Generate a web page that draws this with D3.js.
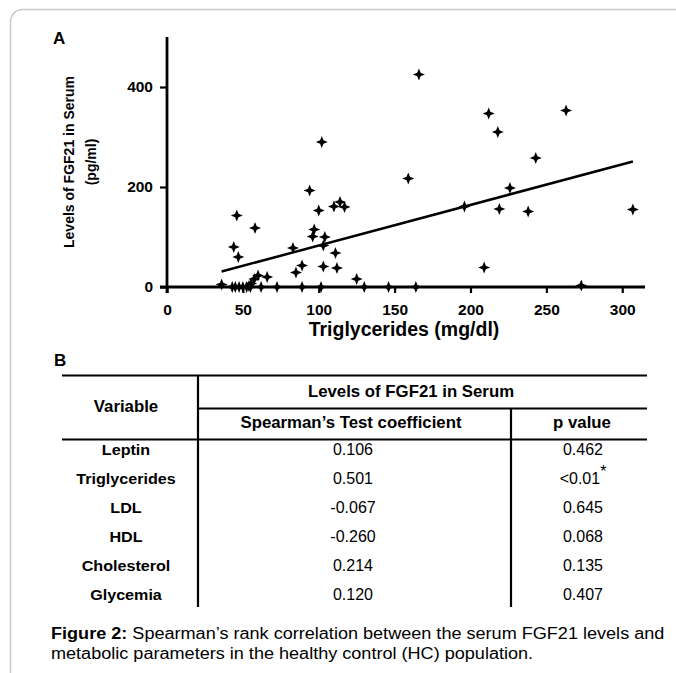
<!DOCTYPE html>
<html>
<head>
<meta charset="utf-8">
<script src="https://cdn.jsdelivr.net/npm/d3@7"></script>
<style>
  body { margin: 0; background: #fff; }
  text { font-family: "Liberation Sans", Arial, sans-serif; fill: #000; }
</style>
</head>
<body>
<div id="chart"></div>
<script>
// scatter values (triglycerides mg/dl, FGF21 pg/ml)
const tgValues = [36, 44, 46, 47, 58, 54, 55.5, 57.5, 60, 66,
  83, 85, 89, 94, 96, 97, 100, 102, 103, 104, 103, 110, 111, 112, 114, 117, 125,
  166, 159, 196, 209, 212, 218, 219, 226, 238, 243, 263, 273, 307,
  43, 45, 47.5, 50, 52.5, 55, 62, 72.5, 89, 101.5, 130, 146, 164];
const fgfValues = [5, 80, 143, 60, 118, 2, 7, 16, 23, 20,
  78, 29, 43, 193, 101, 115, 153, 290, 83, 100, 41, 161, 68, 38, 170, 160, 16,
  425, 217, 161, 39, 347, 310, 156, 198, 151, 258, 353, 3, 155,
  0, 0, 0, 0, 0, 0, 0, 0, 0, 0, 0, 0, 0];
// regression line end points
const fitX = [36, 307];
const fitY = [31, 251];

const xTicks = [0, 50, 100, 150, 200, 250, 300];
const yTicks = [0, 200, 400];

// table B
const variables = ['Leptin', 'Triglycerides', 'LDL', 'HDL', 'Cholesterol', 'Glycemia'];
const coefficients = ['0.106', '0.501', '-0.067', '-0.260', '0.214', '0.120'];
const pValues = ['0.462', '<0.01', '0.645', '0.068', '0.135', '0.407'];

const W = 676, H = 673;
const svg = d3.select('#chart').append('svg')
    .attr('width', W)
    .attr('height', H);

svg.append('rect').attr('width', W).attr('height', H).attr('fill', '#fff');

// frame
svg.append('path')
    .attr('d', 'M10.5,' + H + 'V21A12,12 0 0 1 22.5,9.5H' + W)
    .attr('fill', 'none')
    .attr('stroke', '#c9c9c9')
    .attr('stroke-width', 1.5);

// ---------- panel A ----------
const x = d3.scaleLinear().domain([0, 315]).range([167, 645]);
const y = d3.scaleLinear().domain([0, 500]).range([287, 37]);

svg.append('text')
    .attr('x', 53).attr('y', 44)
    .attr('font-size', 17).attr('font-weight', 'bold')
    .text('A');

const xAxis = svg.append('g')
    .attr('transform', `translate(0,${y(0)})`)
    .call(d3.axisBottom(x).tickValues(xTicks).tickSize(6).tickSizeOuter(0).tickPadding(11));
xAxis.select('.domain')
    .attr('d', `M${x(0) - 7},0H${x(315)}`)
    .attr('stroke', '#000').attr('stroke-width', 2.8);

const yAxis = svg.append('g')
    .attr('transform', `translate(${x(0)},0)`)
    .call(d3.axisLeft(y).tickValues(yTicks).tickSize(7).tickSizeOuter(0).tickPadding(7));
yAxis.select('.domain')
    .attr('d', `M0,${y(0) + 6}V${y(500)}`)
    .attr('stroke', '#000').attr('stroke-width', 2.8);

[xAxis, yAxis].forEach(g => {
    g.selectAll('.tick line').attr('stroke', '#000').attr('stroke-width', 2.2);
    g.selectAll('.tick text')
        .attr('font-family', '"Liberation Sans", Arial, sans-serif')
        .attr('font-size', 15.5).attr('font-weight', 'bold').attr('fill', '#000');
});

svg.append('text')
    .attr('x', 404).attr('y', 336)
    .attr('text-anchor', 'middle')
    .attr('font-size', 19.5).attr('font-weight', 'bold')
    .text('Triglycerides (mg/dl)');

const yTitle = svg.append('text')
    .attr('transform', 'translate(74,162) rotate(-90)')
    .attr('text-anchor', 'middle')
    .attr('font-size', 14).attr('font-weight', 'bold');
yTitle.append('tspan').attr('x', 0).attr('dy', 0).text('Levels of FGF21 in Serum');
yTitle.append('tspan').attr('x', 0).attr('dy', 22).text('(pg/ml)');

// regression line
svg.append('path')
    .datum(fitX.map((d, i) => [d, fitY[i]]))
    .attr('d', d3.line().x(d => x(d[0])).y(d => y(d[1])))
    .attr('fill', 'none')
    .attr('stroke', '#000')
    .attr('stroke-width', 2.5);

// four point star marker
function star(cx, cy) {
    const R = 6, r = 1.7;
    return `M${cx},${cy - R}L${cx + r},${cy - r}L${cx + R},${cy}L${cx + r},${cy + r}` +
        `L${cx},${cy + R}L${cx - r},${cy + r}L${cx - R},${cy}L${cx - r},${cy - r}Z`;
}

svg.append('g').selectAll('path')
    .data(tgValues.map((d, i) => [d, fgfValues[i]]))
    .join('path')
    .attr('d', d => star(x(d[0]), y(d[1])))
    .attr('fill', '#000');

// ---------- panel B ----------
svg.append('text')
    .attr('x', 54).attr('y', 366)
    .attr('font-size', 17).attr('font-weight', 'bold')
    .text('B');

const tLeft = 62, tRight = 647, col1 = 198, col2 = 511;
const tTop = 375.5, tMid = 408.5, tHead = 439.5, tBottom = 607;

const rows = d3.scalePoint().domain(variables).range([455, 600]);

const tableLines = [
    [tLeft, tTop, tRight, tTop],
    [col1, tMid, tRight, tMid],
    [tLeft, tHead, tRight, tHead],
    [col1, tTop, col1, tBottom],
    [col2, tMid, col2, tBottom]
];
svg.append('g').selectAll('line')
    .data(tableLines)
    .join('line')
    .attr('x1', d => d[0]).attr('y1', d => d[1])
    .attr('x2', d => d[2]).attr('y2', d => d[3])
    .attr('stroke', '#000')
    .attr('stroke-width', 2.2);

const header = [
    {t: 'Variable', x: 126, y: 412},
    {t: 'Levels of FGF21 in Serum', x: 411, y: 397},
    {t: 'Spearman\u2019s Test coefficient', x: 351, y: 428},
    {t: 'p value', x: 582, y: 428}
];
svg.append('g').selectAll('text')
    .data(header)
    .join('text')
    .attr('transform', d => `translate(${d.x},${d.y}) scale(1.05,1)`)
    .attr('text-anchor', 'middle')
    .attr('font-size', 16).attr('font-weight', 'bold')
    .text(d => d.t);

svg.append('g').selectAll('text')
    .data(variables)
    .join('text')
    .attr('transform', d => `translate(126,${rows(d)}) scale(1.04,1)`)
    .attr('text-anchor', 'middle')
    .attr('font-size', 15.5).attr('font-weight', 'bold')
    .text(d => d);

svg.append('g').selectAll('text')
    .data(coefficients)
    .join('text')
    .attr('x', 353).attr('y', (d, i) => rows(variables[i]))
    .attr('text-anchor', 'middle')
    .attr('font-size', 16)
    .text(d => d);

const pText = svg.append('g').selectAll('text')
    .data(pValues)
    .join('text')
    .attr('x', 583).attr('y', (d, i) => rows(variables[i]))
    .attr('text-anchor', 'middle')
    .attr('font-size', 16)
    .text(d => d);
// significance mark
pText.filter(d => d === '<0.01')
    .append('tspan')
    .attr('dy', -7)
    .attr('font-size', 16)
    .text('*');

// caption, a little wider than the plain font
const cap1 = svg.append('text')
    .attr('transform', 'translate(51,639) scale(1.13,1)')
    .attr('font-size', 16);
cap1.append('tspan').attr('font-weight', 'bold').text('Figure 2:');
cap1.append('tspan').text(' Spearman\u2019s rank correlation between the serum FGF21 levels and');
svg.append('text')
    .attr('transform', 'translate(51,659) scale(1.13,1)')
    .attr('font-size', 16)
    .text('metabolic parameters in the healthy control (HC) population.');
</script>
</body>
</html>
